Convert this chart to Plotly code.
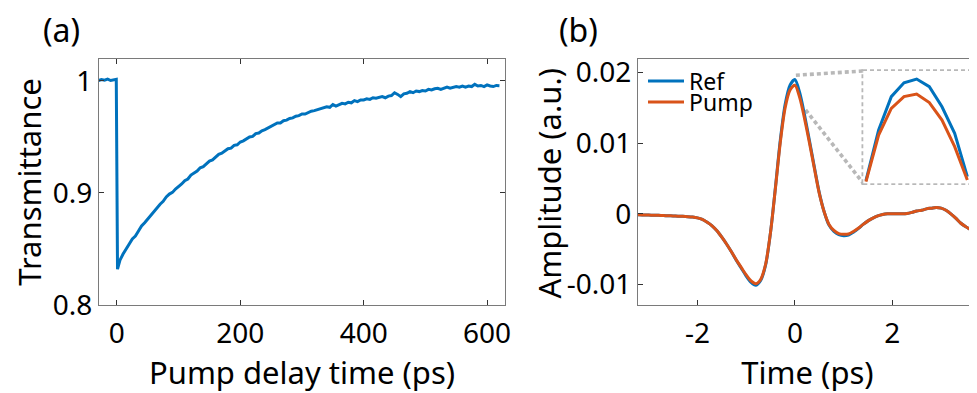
import plotly.graph_objects as go

# ---------------- data: panel (a) ----------------
delay_ps = [-30, -25, -20, -15, -10, -5, -1, 1, 5, 10, 15, 20, 25, 30, 35, 40, 45, 50, 55, 60,
            65, 70, 75, 80, 85, 90, 95, 100, 105, 110, 115, 120, 125, 130, 135, 140, 145, 150,
            155, 160, 165, 170, 175, 180, 185, 190, 195, 200, 205, 210, 215, 220, 225, 230,
            235, 240, 245, 250, 255, 260, 265, 270, 275, 280, 285, 290, 295, 300, 305, 310,
            315, 320, 325, 330, 335, 340, 345, 350, 355, 360, 365, 370, 375, 380, 385, 390,
            395, 400, 405, 410, 415, 420, 425, 430, 435, 440, 445, 450, 455, 460, 465, 470,
            475, 480, 485, 490, 495, 500, 505, 510, 515, 520, 525, 530, 535, 540, 545, 550,
            555, 560, 565, 570, 575, 580, 585, 590, 595, 600, 605, 610, 615, 620]
transmittance = [1.0003, 1.0012, 1.0006, 1.0016, 1.0004, 1.0010, 1.0014, 0.8320, 0.8400, 0.8455,
                 0.8505, 0.8545, 0.8590, 0.8615, 0.8660, 0.8705, 0.8735, 0.8770, 0.8800, 0.8835,
                 0.8865, 0.8900, 0.8925, 0.8965, 0.8990, 0.9005, 0.9035, 0.9055, 0.9080, 0.9110,
                 0.9125, 0.9160, 0.9180, 0.9195, 0.9225, 0.9235, 0.9260, 0.9285, 0.9295, 0.9320,
                 0.9345, 0.9355, 0.9375, 0.9395, 0.9400, 0.9425, 0.9430, 0.9455, 0.9465, 0.9480,
                 0.9500, 0.9505, 0.9530, 0.9535, 0.9555, 0.9565, 0.9580, 0.9595, 0.9605, 0.9625,
                 0.9625, 0.9645, 0.9650, 0.9665, 0.9670, 0.9685, 0.9690, 0.9705, 0.9705, 0.9720,
                 0.9730, 0.9735, 0.9745, 0.9750, 0.9765, 0.9770, 0.9765, 0.9790, 0.9775, 0.9790,
                 0.9800, 0.9795, 0.9810, 0.9805, 0.9825, 0.9815, 0.9830, 0.9830, 0.9840, 0.9835,
                 0.9850, 0.9845, 0.9855, 0.9860, 0.9850, 0.9865, 0.9870, 0.9895, 0.9880, 0.9860,
                 0.9885, 0.9890, 0.9905, 0.9895, 0.9910, 0.9905, 0.9915, 0.9910, 0.9925, 0.9920,
                 0.9930, 0.9935, 0.9925, 0.9935, 0.9945, 0.9935, 0.9940, 0.9950, 0.9945, 0.9955,
                 0.9945, 0.9955, 0.9950, 0.9970, 0.9955, 0.9960, 0.9950, 0.9965, 0.9955, 0.9950,
                 0.9960, 0.9958]

# ---------------- data: panel (b) ----------------
time_ps = [-3.3, -3.2, -3.1, -3.0, -2.9, -2.8, -2.7, -2.6, -2.5, -2.4, -2.3, -2.2, -2.1, -2.0,
           -1.9, -1.8, -1.7, -1.6, -1.5, -1.4, -1.3, -1.2, -1.1, -1.0, -0.9, -0.8, -0.7, -0.6,
           -0.5, -0.4, -0.3, -0.2, -0.1, 0.0, 0.1, 0.2, 0.3, 0.4, 0.5, 0.6, 0.7, 0.8, 0.9, 1.0,
           1.1, 1.2, 1.3, 1.4, 1.5, 1.6, 1.7, 1.8, 1.9, 2.0, 2.1, 2.2, 2.3, 2.4, 2.5, 2.6, 2.7,
           2.8, 2.9, 3.0, 3.1, 3.2, 3.3, 3.4, 3.5, 3.6, 3.7, 3.8]
ref_amp = [-0.00010, -0.00014, -0.00016, -0.00018, -0.00020, -0.00022, -0.00025, -0.00028,
           -0.00030, -0.00033, -0.00036, -0.00040, -0.00046, -0.00058, -0.00080, -0.00120,
           -0.00170, -0.00240, -0.00330, -0.00430, -0.00540, -0.00660, -0.00770, -0.00880,
           -0.00970, -0.01010, -0.00940, -0.00720, -0.00260, 0.00370, 0.01040, 0.01550,
           0.01820, 0.01900, 0.01710, 0.01390, 0.01030, 0.00660, 0.00300, 0.00030, -0.00160,
           -0.00250, -0.00295, -0.00310, -0.00300, -0.00260, -0.00210, -0.00150, -0.00100,
           -0.00060, -0.00030, -0.00010, 0.00000, 0.00000, 0.00000, 0.00000, 0.00005, 0.00020,
           0.00040, 0.00050, 0.00070, 0.00080, 0.00090, 0.00080, 0.00050, 0.00000, -0.00060,
           -0.00130, -0.00180, -0.00220, -0.00260, -0.00290]
pump_amp = [-0.00010, -0.00014, -0.00016, -0.00018, -0.00020, -0.00022, -0.00025, -0.00028,
            -0.00030, -0.00033, -0.00036, -0.00040, -0.00046, -0.00058, -0.00080, -0.00120,
            -0.00170, -0.00240, -0.00330, -0.00430, -0.00540, -0.00655, -0.00760, -0.00865,
            -0.00950, -0.00990, -0.00925, -0.00710, -0.00260, 0.00360, 0.01010, 0.01500,
            0.01750, 0.01820, 0.01640, 0.01340, 0.01000, 0.00640, 0.00290, 0.00030, -0.00150,
            -0.00235, -0.00280, -0.00290, -0.00285, -0.00250, -0.00205, -0.00150, -0.00100,
            -0.00060, -0.00030, -0.00010, 0.00000, 0.00000, 0.00000, 0.00000, 0.00005, 0.00020,
            0.00040, 0.00050, 0.00070, 0.00080, 0.00090, 0.00080, 0.00050, 0.00000, -0.00060,
            -0.00130, -0.00180, -0.00220, -0.00260, -0.00290]

# magnified peak (inset)
zoom_t = [-0.20, -0.15, -0.10, -0.05, 0.00, 0.05, 0.10, 0.15, 0.20]
zoom_ref = [0.01357, 0.01628, 0.01806, 0.01880, 0.01900, 0.01859, 0.01752, 0.01610, 0.01379]
zoom_pump = [0.01352, 0.01601, 0.01743, 0.01806, 0.01820, 0.01774, 0.01681, 0.01539, 0.01361]

a_xticks = [0, 200, 400, 600]
a_yticks = [0.8, 0.9, 1.0]
a_yticktext = ["0.8", "0.9", "1"]
b_xticks = [-2, 0, 2]
b_xticktext = ["-2", "0", "2"]
b_yticks = [-0.01, 0, 0.01, 0.02]
b_yticktext = ["-0.01", "0", "0.01", "0.02"]

# ---------------- styling / layout ----------------
OFF = 8                      # page body margin of the html page
WIN_W, WIN_H = 977, 393
W, H = WIN_W - OFF, WIN_H - OFF
FONT = "Noto Sans"
BLUE = "#0072BD"
ORANGE = "#D95319"
GRAY = "#B8B8B8"
DOTS = "4px,3px"
DOT_W = 3.6

def px_x(p):
    return (p - OFF) / W

def px_y(p):
    return 1 - (p - OFF) / H

a_dom_x = [px_x(99), px_x(505)]
b_dom_x = [px_x(638), 1.0]
dom_y = [px_y(305), px_y(59)]
a_range_x = [-29, 629]
a_range_y = [0.8, 1.0196]
b_range_x = [-3.22, 3.737]
b_range_y = [-0.0129, 0.0219]
inset_dom_x = [px_x(863.3), px_x(970)]
inset_dom_y = [px_y(183.3), px_y(71)]
inset_range_x = [-0.2105, 0.2105]
inset_range_y = [0.01343, 0.01943]

fig = go.Figure()

fig.add_trace(go.Scatter(x=delay_ps, y=transmittance, mode="lines",
                         line=dict(color=BLUE, width=3), showlegend=False,
                         xaxis="x", yaxis="y"))
fig.add_trace(go.Scatter(x=time_ps, y=ref_amp, mode="lines", name="Ref", legend="legend",
                         line=dict(color=BLUE, width=3, shape="spline", smoothing=0.8),
                         xaxis="x2", yaxis="y2"))
fig.add_trace(go.Scatter(x=time_ps, y=pump_amp, mode="lines", name="Pump", legend="legend2",
                         line=dict(color=ORANGE, width=3, shape="spline", smoothing=0.8),
                         xaxis="x2", yaxis="y2"))
fig.add_trace(go.Scatter(x=zoom_t, y=zoom_ref, mode="lines", showlegend=False,
                         line=dict(color=BLUE, width=3), xaxis="x3", yaxis="y3"))
fig.add_trace(go.Scatter(x=zoom_t, y=zoom_pump, mode="lines", showlegend=False,
                         line=dict(color=ORANGE, width=3), xaxis="x3", yaxis="y3"))

axis_common = dict(showline=True, linecolor="#7a7a7a", linewidth=1.2, ticks="inside",
                   ticklen=5, tickwidth=1, tickcolor="#333333", showgrid=False,
                   zeroline=False, tickfont=dict(family=FONT, size=28, color="black"),
                   automargin=False)
title_font = dict(family=FONT, size=31, color="black")
legend_common = dict(xanchor="left", yanchor="middle", bgcolor="rgba(0,0,0,0)",
                     font=dict(family=FONT, size=23, color="black"), itemwidth=36,
                     borderwidth=0)

fig.update_layout(
    width=W, height=H,
    margin=dict(l=0, r=0, t=0, b=0),
    paper_bgcolor="white", plot_bgcolor="white",
    font=dict(family=FONT, color="black"),
    xaxis=dict(domain=a_dom_x, range=a_range_x, tickvals=a_xticks, mirror="ticks",
               ticklabelstandoff=3,
               title=dict(text="Pump delay time (ps)", font=title_font, standoff=10),
               anchor="y", **axis_common),
    yaxis=dict(domain=dom_y, range=a_range_y, tickvals=a_yticks, ticktext=a_yticktext,
               mirror="ticks",
               title=dict(text="Transmittance", font=title_font, standoff=8),
               anchor="x", **axis_common),
    xaxis2=dict(domain=b_dom_x, range=b_range_x, tickvals=b_xticks, ticktext=b_xticktext,
                mirror=True, ticklabelstandoff=3,
                title=dict(text="Time (ps)", font=title_font, standoff=10),
                anchor="y2", **axis_common),
    yaxis2=dict(domain=dom_y, range=b_range_y, tickvals=b_yticks, ticktext=b_yticktext,
                mirror=False, anchor="x2", **axis_common),
    xaxis3=dict(domain=inset_dom_x, range=inset_range_x, visible=False, anchor="y3"),
    yaxis3=dict(domain=inset_dom_y, range=inset_range_y, visible=False, anchor="x3"),
    legend=dict(x=px_x(643), y=px_y(81), **legend_common),
    legend2=dict(x=px_x(643), y=px_y(102), **legend_common),
)

# inset frame (dotted), in paper units so the stroke is not clipped
fig.add_shape(type="rect", xref="paper", yref="paper",
              x0=inset_dom_x[0], x1=inset_dom_x[1], y0=inset_dom_y[0], y1=inset_dom_y[1],
              line=dict(color=GRAY, width=DOT_W, dash=DOTS), layer="below")

# connectors from the main peak to the inset corners (inset corners in panel-b data units)
def b_data_x(paper_x):
    return b_range_x[0] + (paper_x - b_dom_x[0]) / (b_dom_x[1] - b_dom_x[0]) * (b_range_x[1] - b_range_x[0])

def b_data_y(paper_y):
    return b_range_y[0] + (paper_y - dom_y[0]) / (dom_y[1] - dom_y[0]) * (b_range_y[1] - b_range_y[0])

peak_top = (0.02, 0.0196)
peak_side = (0.22, 0.0147)
fig.add_shape(type="line", xref="x2", yref="y2",
              x0=peak_top[0], y0=peak_top[1],
              x1=b_data_x(inset_dom_x[0]), y1=b_data_y(inset_dom_y[1]),
              line=dict(color=GRAY, width=DOT_W, dash=DOTS), layer="below")
fig.add_shape(type="line", xref="x2", yref="y2",
              x0=peak_side[0], y0=peak_side[1],
              x1=b_data_x(inset_dom_x[0]), y1=b_data_y(inset_dom_y[0]),
              line=dict(color=GRAY, width=DOT_W, dash=DOTS), layer="below")

# y title of panel (b) overlapping the tick labels, as in the original
fig.add_annotation(text="Amplitude (a.u.)", xref="paper", yref="paper",
                   x=px_x(548), y=px_y(183.5), textangle=-90, showarrow=False,
                   font=title_font, xanchor="center", yanchor="middle")
fig.add_annotation(text="(a)", xref="paper", yref="paper", x=px_x(61), y=px_y(29),
                   showarrow=False, font=dict(family=FONT, size=32, color="black"),
                   xanchor="center", yanchor="middle")
fig.add_annotation(text="(b)", xref="paper", yref="paper", x=px_x(578), y=px_y(29),
                   showarrow=False, font=dict(family=FONT, size=32, color="black"),
                   xanchor="center", yanchor="middle")

fig.write_html("out.html")
